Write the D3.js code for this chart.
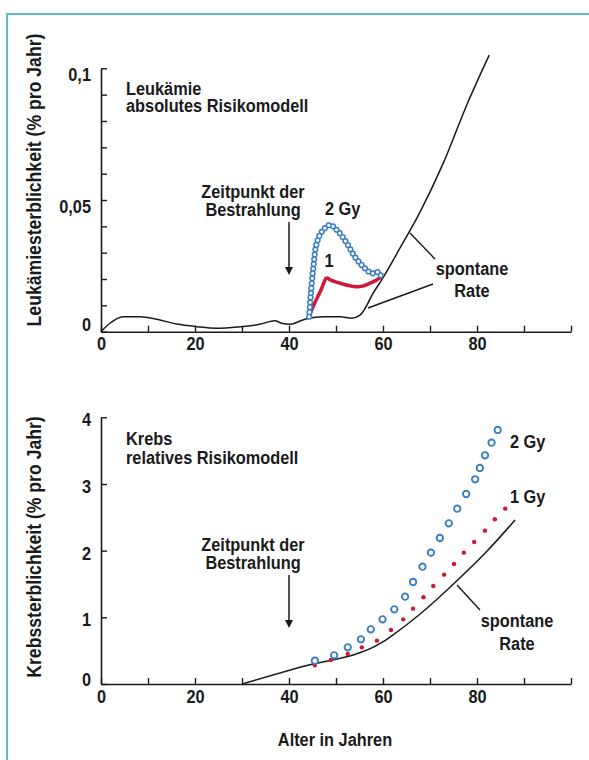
<!DOCTYPE html>
<html>
<head>
<meta charset="utf-8">
<script src="https://cdn.jsdelivr.net/npm/d3@7"></script>
<style>
  body { margin: 0; background: #fff; }
  svg text { font-family: "Liberation Sans", Arial, sans-serif; font-weight: bold; fill: #1a1a1a; }
</style>
</head>
<body>
<svg id="chart" width="589" height="760"></svg>
<script>
// --- Leukämie (oben), Alter in Jahren / Sterblichkeit in % pro Jahr
var leukSpontanAlter = [0, 1.9, 4.7, 8.3, 11.9, 16.1, 20.4, 24.6, 29.6, 33.8, 37, 38.4, 40.2, 42, 44.1, 47.3, 50.9, 53.3, 55.1, 56.2, 57.9, 59.7, 63.6, 67.9, 72.8, 77.8, 82.6];
var leukSpontanWert = [0, 0.0032, 0.0057, 0.0057, 0.0047, 0.0029, 0.0019, 0.0013, 0.0019, 0.0028, 0.0042, 0.0032, 0.0028, 0.0038, 0.0051, 0.0057, 0.0057, 0.0051, 0.0063, 0.0089, 0.0146, 0.0196, 0.0317, 0.0455, 0.0639, 0.086, 0.105];
var leuk2GyAlter = [44.3, 44.6, 45.2, 45.9, 47.0, 48.7, 50.5, 52.3, 54.0, 55.8, 57.6, 59.0, 59.7];
var leuk2GyWert = [0.0057, 0.0133, 0.0247, 0.0336, 0.038, 0.0405, 0.038, 0.0336, 0.0285, 0.0247, 0.0222, 0.0226, 0.0207];
var leuk1GyAlter = [44.2, 45.5, 46.8, 48.0, 49.0, 50.9, 52.5, 54.4, 56.0, 57.2, 58.5, 59.7];
var leuk1GyWert = [0.0055, 0.0110, 0.0158, 0.0203, 0.0195, 0.0184, 0.0176, 0.0171, 0.0175, 0.0184, 0.0195, 0.0209];

// --- Krebs (unten)
var krebsSpontanAlter = [30, 42.3, 59.7, 62, 67.9, 75, 82.1, 88.1];
var krebsSpontanWert = [0, 0.25, 0.62, 0.73, 1.05, 1.50, 1.99, 2.46];
var krebs2GyAlter = [45.5, 49.6, 52.5, 55.3, 57.4, 59.9, 62.4, 64.7, 66.4, 68.4, 70.2, 72.1, 74.0, 75.8, 77.7, 79.6, 80.6, 81.7, 83.1, 84.4];
var krebs2GyWert = [0.35, 0.43, 0.55, 0.67, 0.82, 0.97, 1.12, 1.31, 1.53, 1.76, 1.97, 2.19, 2.41, 2.63, 2.85, 3.07, 3.24, 3.43, 3.62, 3.81];
var krebs1GyAlter = [45.5, 48.9, 52.5, 55.5, 58.7, 61.7, 64.3, 66.4, 68.6, 70.7, 73.0, 75.1, 77.2, 79.4, 81.7, 83.8, 86.0];
var krebs1GyWert = [0.28, 0.36, 0.45, 0.55, 0.65, 0.81, 0.97, 1.13, 1.30, 1.47, 1.64, 1.80, 1.97, 2.13, 2.30, 2.47, 2.63];

var xTicks = [0, 10, 20, 30, 40, 50, 60, 70, 80, 90, 100];
var xLabels = [0, 20, 40, 60, 80];
var leukTicks = [0, 0.01, 0.02, 0.03, 0.04, 0.05, 0.06, 0.07, 0.08, 0.09, 0.1];
var leukLabels = { 0: "0", 0.05: "0,05", 0.1: "0,1" };
var krebsTicks = [0, 1, 2, 3, 4];

var blau = "#3a7fc1", rot = "#cf1737", ink = "#1a1a1a";
var FS = 19, SX = 0.86;   // schmale Schrift: Liberation Sans fett, horizontal gestaucht

var svg = d3.select("#chart");

// Rahmen
svg.append("rect").attr("x", 7).attr("y", 14).attr("width", 600).attr("height", 800)
  .attr("fill", "#fff").attr("stroke", "#5cc0c3").attr("stroke-width", 2);

var x = d3.scaleLinear().domain([0, 100]).range([101, 571]);
var yL = d3.scaleLinear().domain([0, 0.1]).range([331.7, 68.3]);
var yK = d3.scaleLinear().domain([0, 4]).range([684, 417.3]);

function zip(a, b) { return a.map(function (d, i) { return [d, b[i]]; }); }

function styleAxis(g) {
  g.select(".domain").attr("stroke", ink).attr("stroke-width", 1.6);
  g.selectAll(".tick line").attr("stroke", ink).attr("stroke-width", 1.4);
  g.selectAll("text").attr("font-family", null).style("font-size", FS + "px").attr("fill", ink);
}
function xAxis(y0) {
  var g = svg.append("g").attr("transform", "translate(0," + y0 + ")")
    .call(d3.axisBottom(x).tickValues(xTicks).tickSizeInner(-6).tickSizeOuter(0).tickPadding(5)
      .tickFormat(function (d) { return xLabels.indexOf(d) >= 0 ? d : ""; }));
  styleAxis(g);
  g.selectAll(".tick text").each(function () {
    var t = d3.select(this), yy = +t.attr("y");
    t.attr("y", null).attr("transform", "translate(0," + yy + ") scale(" + SX + ",1)");
  });
  return g;
}
function yAxis(scale, ticks, fmt, dyFn) {
  var g = svg.append("g").attr("transform", "translate(" + x(0) + ",0)")
    .call(d3.axisLeft(scale).tickValues(ticks).tickSizeInner(-6).tickSizeOuter(0).tickPadding(10).tickFormat(fmt));
  styleAxis(g);
  g.selectAll(".tick text").attr("dy", dyFn).each(function () {
    var t = d3.select(this), xx = +t.attr("x");
    t.attr("x", null).attr("transform", "translate(" + xx + ",0) scale(" + SX + ",1)");
  });
  return g;
}

// ---------- oberes Diagramm ----------
xAxis(yL(0));
yAxis(yL, leukTicks, function (d) { return leukLabels[d] || ""; },
  function (d) { return d === 0 ? "-0.05em" : "0.66em"; });

var lineL = d3.line().x(function (d) { return x(d[0]); }).y(function (d) { return yL(d[1]); });

svg.append("path").datum(zip(leukSpontanAlter, leukSpontanWert))
  .attr("d", lineL.curve(d3.curveMonotoneX)).attr("fill", "none").attr("stroke", ink).attr("stroke-width", 1.5);

// 1 Gy: rote Punktreihe
svg.append("path").datum(zip(leuk1GyAlter, leuk1GyWert))
  .attr("d", lineL.curve(d3.curveCatmullRom)).attr("fill", "none").attr("stroke", rot)
  .attr("stroke-width", 3.8).attr("stroke-linecap", "round").attr("stroke-dasharray", "0 2.1");

// 2 Gy: Kreiskette (blau mit weißem Kern)
var kette = zip(leuk2GyAlter, leuk2GyWert);
svg.append("path").datum(kette).attr("d", lineL.curve(d3.curveCatmullRom)).attr("fill", "none")
  .attr("stroke", blau).attr("stroke-width", 6.2).attr("stroke-linecap", "round").attr("stroke-dasharray", "0 4.8");
svg.append("path").datum(kette).attr("d", lineL.curve(d3.curveCatmullRom)).attr("fill", "none")
  .attr("stroke", "#fff").attr("stroke-width", 3.2).attr("stroke-linecap", "round").attr("stroke-dasharray", "0 4.8");

// ---------- unteres Diagramm ----------
xAxis(yK(0));
yAxis(yK, krebsTicks, function (d) { return d; },
  function (d) { return d === 0 ? "0.1em" : "0.45em"; });

var lineK = d3.line().x(function (d) { return x(d[0]); }).y(function (d) { return yK(d[1]); }).curve(d3.curveMonotoneX);
svg.append("path").datum(zip(krebsSpontanAlter, krebsSpontanWert))
  .attr("d", lineK).attr("fill", "none").attr("stroke", ink).attr("stroke-width", 1.5);

svg.append("g").selectAll("circle").data(zip(krebs1GyAlter, krebs1GyWert)).join("circle")
  .attr("cx", function (d) { return x(d[0]); }).attr("cy", function (d) { return yK(d[1]); })
  .attr("r", 2.2).attr("fill", rot);
svg.append("g").selectAll("circle").data(zip(krebs2GyAlter, krebs2GyWert)).join("circle")
  .attr("cx", function (d) { return x(d[0]); }).attr("cy", function (d) { return yK(d[1]); })
  .attr("r", 3.2).attr("fill", "#fff").attr("stroke", blau).attr("stroke-width", 1.9);

// ---------- Beschriftungen ----------
function txt(s, px, py, anchor, size, rot90) {
  var tr = "translate(" + px + "," + py + ")" + (rot90 ? " rotate(-90)" : "") + " scale(" + SX + ",1)";
  return svg.append("text").attr("transform", tr).attr("text-anchor", anchor || "start")
    .style("font-size", (size || FS) + "px").text(s);
}
function pfeil(px, y1, y2) {
  svg.append("line").attr("x1", px).attr("x2", px).attr("y1", y1).attr("y2", y2 - 6)
    .attr("stroke", ink).attr("stroke-width", 1.5);
  svg.append("path").attr("d", "M" + (px - 4) + "," + (y2 - 8) + "L" + (px + 4) + "," + (y2 - 8) + "L" + px + "," + y2 + "Z")
    .attr("fill", ink);
}
function strich(x1, y1, x2, y2) {
  svg.append("line").attr("x1", x1).attr("y1", y1).attr("x2", x2).attr("y2", y2)
    .attr("stroke", ink).attr("stroke-width", 1.4);
}

txt("Leukämie", 126, 95);
txt("absolutes Risikomodell", 126, 112);
txt("Zeitpunkt der", 253, 198, "middle");
txt("Bestrahlung", 253, 216, "middle");
pfeil(x(40), 222, 275);
txt("2 Gy", 325, 215);
txt("1", 329, 267, "middle");
txt("spontane", 472, 275, "middle");
txt("Rate", 472, 297, "middle");
strich(410, 233, 435, 259);
strich(368, 308, 433, 284);

txt("Krebs", 126, 445);
txt("relatives Risikomodell", 126, 464);
txt("Zeitpunkt der", 253, 551, "middle");
txt("Bestrahlung", 253, 569, "middle");
pfeil(x(40), 575, 628);
txt("2 Gy", 510, 448);
txt("1 Gy", 510, 503);
txt("spontane", 517, 627, "middle");
txt("Rate", 517, 650, "middle");
strich(457, 585, 480, 610);

txt("Alter in Jahren", 335, 746, "middle");
txt("Leukämiesterblichkeit (% pro Jahr)", 41, 180, "middle", 20.5, true);
txt("Krebssterblichkeit (% pro Jahr)", 41, 547, "middle", 20.5, true);
</script>
</body>
</html>
